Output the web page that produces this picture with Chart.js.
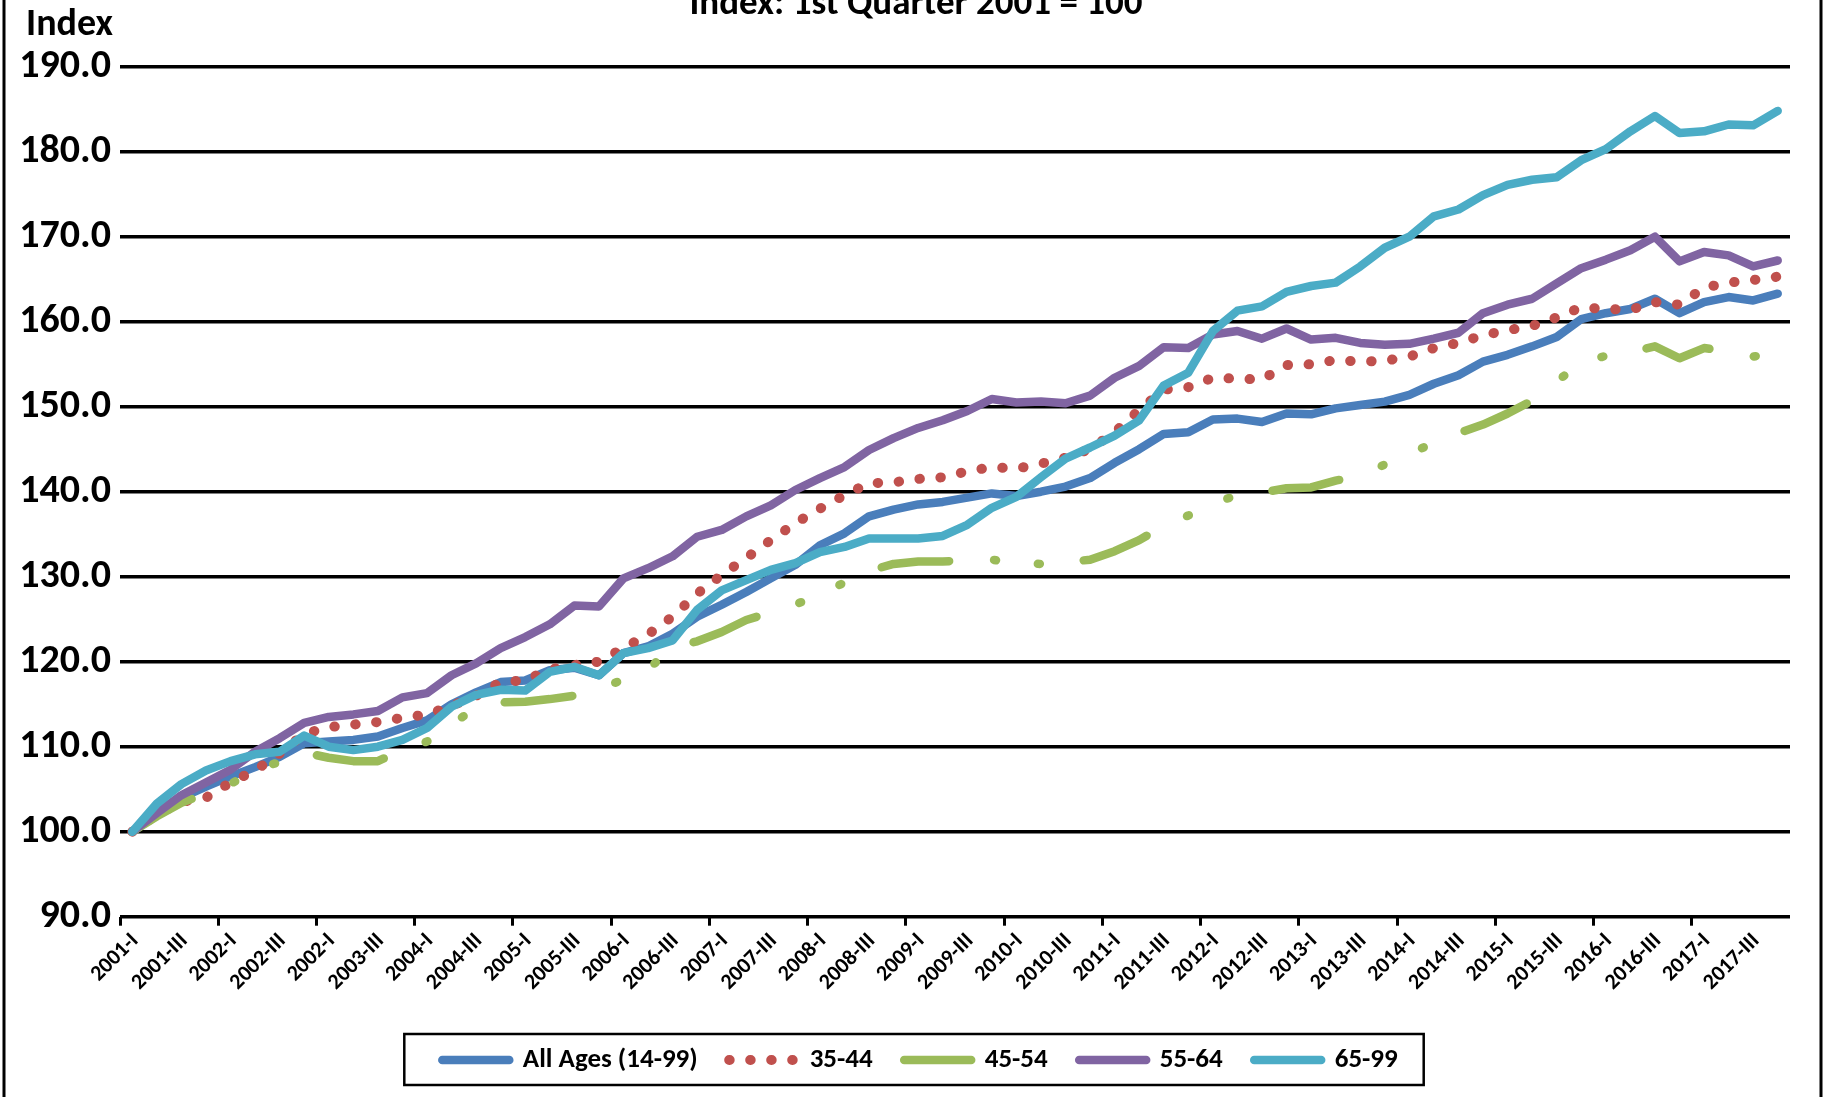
<!DOCTYPE html>
<html>
<head>
<meta charset="utf-8">
<title>Index: 1st Quarter 2001 = 100</title>
<script src="https://cdn.jsdelivr.net/npm/chart.js@4.4.1/dist/chart.umd.min.js"></script>
<style>
  html, body { margin: 0; padding: 0; background: #fff; overflow: hidden; }
  #wrap { position: relative; width: 1826px; height: 1097px; }
</style>
</head>
<body>
<div id="wrap"><canvas id="chart" width="1826" height="1097"></canvas></div>
<script>
// ── Data ──
const quarters = [
  '2001-I', '2001-II', '2001-III', '2001-IV', '2002-I', '2002-II', '2002-III', '2002-IV',
  '2003-I', '2003-II', '2003-III', '2003-IV', '2004-I', '2004-II', '2004-III', '2004-IV',
  '2005-I', '2005-II', '2005-III', '2005-IV', '2006-I', '2006-II', '2006-III', '2006-IV',
  '2007-I', '2007-II', '2007-III', '2007-IV', '2008-I', '2008-II', '2008-III', '2008-IV',
  '2009-I', '2009-II', '2009-III', '2009-IV', '2010-I', '2010-II', '2010-III', '2010-IV',
  '2011-I', '2011-II', '2011-III', '2011-IV', '2012-I', '2012-II', '2012-III', '2012-IV',
  '2013-I', '2013-II', '2013-III', '2013-IV', '2014-I', '2014-II', '2014-III', '2014-IV',
  '2015-I', '2015-II', '2015-III', '2015-IV', '2016-I', '2016-II', '2016-III', '2016-IV',
  '2017-I', '2017-II', '2017-III', '2017-IV',
];

// every second quarter is labelled (text as printed on the original, typo included)
const tickLabels = [
  '2001-I', '2001-III', '2002-I', '2002-III', '2002-I', '2003-III', '2004-I', '2004-III',
  '2005-I', '2005-III', '2006-I', '2006-III', '2007-I', '2007-III', '2008-I', '2008-III',
  '2009-I', '2009-III', '2010-I', '2010-III', '2011-I', '2011-III', '2012-I', '2012-III',
  '2013-I', '2013-III', '2014-I', '2014-III', '2015-I', '2015-III', '2016-I', '2016-III',
  '2017-I', '2017-III',
];

const allAges = [
  100.0, 102.0, 104.0, 105.3, 106.5, 107.6, 108.8, 110.4, 110.6, 110.8, 111.2, 112.2,
  113.1, 115.0, 116.4, 117.6, 117.8, 119.0, 119.3, 118.4, 121.0, 121.8, 123.3, 125.3,
  126.7, 128.2, 129.8, 131.4, 133.7, 135.1, 137.1, 137.9, 138.5, 138.8, 139.3, 139.8,
  139.5, 140.0, 140.6, 141.6, 143.4, 145.0, 146.8, 147.0, 148.5, 148.6, 148.2, 149.2,
  149.1, 149.8, 150.2, 150.6, 151.4, 152.7, 153.7, 155.3, 156.1, 157.1, 158.2, 160.3,
  161.0, 161.5, 162.7, 161.0, 162.3, 162.9, 162.5, 163.3,
];
const age3544 = [
  100.0, 102.0, 103.5, 104.0, 105.8, 107.2, 109.2, 111.5, 112.3, 112.6, 112.9, 113.4,
  113.8, 114.8, 116.0, 117.6, 117.8, 119.1, 119.6, 120.0, 121.6, 123.2, 125.3, 128.0,
  130.2, 132.2, 134.3, 136.3, 138.0, 139.6, 141.0, 141.1, 141.5, 141.7, 142.4, 142.9,
  142.7, 143.3, 144.0, 145.0, 147.0, 149.6, 152.0, 152.3, 153.4, 153.3, 153.2, 154.9,
  155.0, 155.5, 155.3, 155.4, 155.9, 156.9, 157.5, 158.4, 159.0, 159.5, 160.5, 161.7,
  161.5, 161.4, 162.3, 162.0, 164.0, 164.6, 164.9, 165.3,
];
const age4554 = [
  100.0, 101.8, 103.4, 104.5, 105.6, 107.3, 108.2, 109.3, 108.7, 108.3, 108.3, 109.6,
  110.6, 112.7, 114.5, 115.2, 115.3, 115.6, 116.0, 116.8, 117.9, 119.1, 121.7, 122.4,
  123.5, 124.9, 125.8, 126.7, 128.0, 129.3, 130.7, 131.5, 131.8, 131.8, 131.9, 132.0,
  131.6, 131.5, 131.7, 132.0, 133.0, 134.3, 136.0, 137.2, 138.6, 139.6, 139.9, 140.4,
  140.5, 141.3, 141.9, 143.2, 144.4, 145.8, 146.9, 147.9, 149.2, 150.7, 153.0, 155.1,
  156.0, 156.4, 157.1, 155.7, 156.9, 156.5, 155.9, 156.3,
];
const age5564 = [
  100.0, 102.2, 104.3, 105.8, 107.3, 109.4, 111.0, 112.8, 113.5, 113.8, 114.2, 115.8,
  116.3, 118.4, 119.8, 121.6, 122.9, 124.4, 126.6, 126.5, 129.8, 131.0, 132.4, 134.7,
  135.5, 137.1, 138.4, 140.2, 141.6, 142.9, 144.9, 146.3, 147.5, 148.4, 149.5, 150.9,
  150.5, 150.6, 150.4, 151.3, 153.4, 154.8, 157.0, 156.9, 158.5, 158.9, 158.0, 159.2,
  157.9, 158.1, 157.5, 157.3, 157.4, 158.0, 158.7, 161.0, 162.0, 162.7, 164.5, 166.3,
  167.3, 168.4, 170.0, 167.1, 168.2, 167.8, 166.5, 167.2,
];
const age6599 = [
  100.0, 103.3, 105.6, 107.2, 108.3, 109.1, 109.4, 111.3, 110.0, 109.6, 110.0, 110.8,
  112.2, 114.7, 116.1, 116.7, 116.6, 118.8, 119.4, 118.4, 121.0, 121.6, 122.5, 126.1,
  128.4, 129.6, 130.8, 131.6, 132.9, 133.5, 134.5, 134.5, 134.5, 134.8, 136.1, 138.1,
  139.4, 141.7, 143.9, 145.2, 146.6, 148.4, 152.5, 154.0, 158.9, 161.3, 161.8, 163.5,
  164.2, 164.6, 166.5, 168.7, 170.0, 172.4, 173.2, 174.9, 176.1, 176.7, 177.0, 179.0,
  180.3, 182.4, 184.2, 182.2, 182.4, 183.2, 183.1, 184.8,
];

const seriesNames = ['All Ages (14-99)', '35-44', '45-54', '55-64', '65-99'];
const yMin = 90, yMax = 190, yStep = 10;
const chartTitle = 'Index: 1st Quarter 2001 = 100';
const axisTitle = 'Index';

// ── Look ──
const FONT = "Carlito, 'Liberation Sans Narrow', 'Liberation Sans', sans-serif";
const ink = '#000000';

function series(label, data, color, order, extra) {
  return Object.assign({
    label, data, order,
    borderColor: color,
    backgroundColor: color,
    borderWidth: 8.5,
    borderCapStyle: 'round',
    borderJoinStyle: 'round',
    pointRadius: 0,
    tension: 0,
    fill: false,
  }, extra || {});
}

// legend samples take the dataset's line style (dash, cap, width)
function legendLabels(chart) {
  const items = Chart.defaults.plugins.legend.labels.generateLabels(chart);
  items.forEach(it => {
    const ds = chart.data.datasets[it.datasetIndex];
    it.lineDash = ds.borderDash || [];
    it.lineCap = ds.borderCapStyle;
    it.lineWidth = ds.borderWidth;
    it.strokeStyle = ds.borderColor;
  });
  return items;
}

// ── Frame, clipped title, "Index" caption, legend box ──
const decor = {
  id: 'decor',
  afterLayout(chart) {
    // the legend of the original sits centred under the plot, not the canvas
    chart.legend.left += 50;
  },
  afterDraw(chart) {
    const { ctx, height, legend } = chart;
    ctx.save();
    ctx.fillStyle = ink;
    ctx.textBaseline = 'alphabetic';
    ctx.textAlign = 'center';
    ctx.font = `bold 37px ${FONT}`;
    ctx.fillText(chartTitle, 916, 14);
    ctx.textAlign = 'left';
    ctx.font = `bold 38px ${FONT}`;
    ctx.fillText(axisTitle, 26, 35);

    ctx.strokeStyle = ink;
    ctx.lineWidth = 3;
    ctx.beginPath();
    ctx.moveTo(4, 0); ctx.lineTo(4, height);
    ctx.moveTo(1821, 0); ctx.lineTo(1821, height);
    ctx.stroke();

    const hb = legend.legendHitBoxes;
    if (hb && hb.length) {
      const first = hb[0], last = hb[hb.length - 1];
      const cy = first.top + first.height / 2;
      const x0 = first.left - 38, x1 = last.left + last.width + 26;
      ctx.lineWidth = 2.5;
      ctx.strokeRect(x0, cy - 26, x1 - x0, 51);
    }
    ctx.restore();
  },
};

new Chart(document.getElementById('chart'), {
  type: 'line',
  data: {
    labels: quarters,
    datasets: [
      series(seriesNames[0], allAges, '#4A7EBB', 5),
      series(seriesNames[1], age3544, '#C0504D', 4, { borderWidth: 10, borderDash: [0.5, 20.5] }),
      series(seriesNames[2], age4554, '#9BBB59', 3, { borderDash: [68, 45, 2, 42, 2, 44] }),
      series(seriesNames[3], age5564, '#8064A2', 2),
      series(seriesNames[4], age6599, '#4BACC6', 1),
    ],
  },
  options: {
    responsive: false,
    animation: false,
    events: [],
    layout: { padding: { left: 0, right: 36, top: 66.7, bottom: 13.5 } },
    plugins: {
      title: { display: false },
      tooltip: { enabled: false },
      legend: {
        position: 'bottom',
        labels: {
          usePointStyle: true,
          pointStyle: 'line',
          pointStyleWidth: 67,
          padding: 31.5,
          color: ink,
          font: { family: FONT, size: 27, weight: 'bold' },
          generateLabels: legendLabels,
          sort: (a, b) => a.datasetIndex - b.datasetIndex,
        },
      },
    },
    scales: {
      x: {
        offset: true,
        afterFit: s => { s.height = 98.3; },
        border: { display: false },
        grid: {
          offset: true,
          drawOnChartArea: false,
          drawTicks: true,
          tickLength: 9,
          lineWidth: 3,
          color: c => (c.index % 4 === 0 ? ink : 'rgba(0,0,0,0)'),
        },
        ticks: {
          autoSkip: false,
          minRotation: 45,
          maxRotation: 45,
          padding: 2.5,
          labelOffset: 3,
          color: ink,
          font: { family: FONT, size: 22, weight: 'bold' },
          callback: (v, i) => (i % 2 === 0 ? tickLabels[i / 2] : ''),
        },
      },
      y: {
        min: yMin,
        max: yMax,
        afterFit: s => { s.width = 120; },
        border: { display: false },
        grid: { color: ink, lineWidth: 3.5, drawTicks: false },
        ticks: {
          stepSize: yStep,
          padding: 9,
          color: ink,
          font: { family: FONT, size: 40, weight: 'bold' },
          callback: v => Number(v).toFixed(1),
        },
      },
    },
  },
  plugins: [decor],
});
</script>
</body>
</html>
